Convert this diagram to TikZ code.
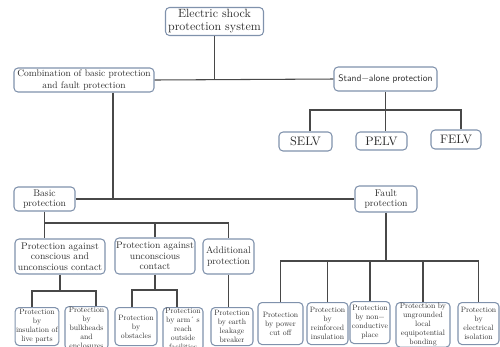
\documentclass[tikz,border=0pt]{standalone}
\usepackage{fontspec}
\setmainfont{lmroman10-regular.otf}
\setsansfont{lmsans10-regular.otf}
\usepackage{xcolor}
\usepackage{tikz}
\definecolor{boxline}{RGB}{128,146,172}
\definecolor{wire}{RGB}{72,72,72}
\definecolor{ink}{RGB}{45,45,45}

\begin{document}
\begin{tikzpicture}[x=0.02cm,y=-0.02cm,
box/.style={draw=boxline,rounded corners=0.08cm,align=center,inner sep=0.5pt,text=ink,line width=0.6pt},
wh/.style 2 args={minimum width=#1*0.02cm,minimum height=#2*0.02cm},
leaf/.style={box,anchor=north,font=\fontsize{4.4}{5.1}\selectfont},
mid/.style={box,font=\fontsize{5.5}{6}\selectfont},
volt/.style={box,font=\fontsize{7}{8}\selectfont},
link/.style={draw=wire,line width=0.6pt},
trunk/.style={draw=wire,line width=1.1pt}]
\useasboundingbox (0,0) rectangle (500,346);
\clip (0,0) rectangle (500,346);
\node (top) [box,wh={98}{28},font=\fontsize{6.8}{7.4}\selectfont] at (214.5,21.5) {Electric shock\\protection system};
\node (combo) [box,wh={140}{24},font=\fontsize{5.4}{6.6}\selectfont] at (84,80) {Combination of basic protection\\and fault protection};
\node (alone) [box,wh={103}{24},font=\sffamily\fontsize{5.4}{6.6}\selectfont] at (385.5,79) {Stand−alone protection};
\node (selv) [volt,wh={53}{19}] at (305.5,141.5) {SELV};
\node (pelv) [volt,wh={51}{18}] at (381.5,141) {PELV};
\node (felv) [volt,wh={50}{19}] at (456,139.5) {FELV};
\node (basic) [mid,wh={61}{24}] at (44.5,199) {Basic\\protection};
\node (fault) [mid,wh={62}{26}] at (386,199) {Fault\\protection};
\node (conscious) [mid,wh={90}{35}] at (60,256.5) {Protection against\\conscious and\\unconscious contact};
\node (unconscious) [mid,wh={80}{36}] at (155,256) {Protection against\\unconscious\\contact};
\node (additional) [mid,wh={51}{35}] at (228.5,256.5) {Additional\\protection};
\node (insul) [leaf,wh={42}{38}] at (37,307) {Protection\\by\\insulation of\\live parts};
\node (bulk) [leaf,wh={43}{38}] at (86.5,306) {Protection\\by\\bulkheads\\and\\enclosures};
\node (obst) [leaf,wh={42}{38}] at (136,307) {Protection\\by\\obstacles};
\node (arm) [leaf,wh={40}{38}] at (183,307) {Protection\\by arm´ s\\reach\\outside\\facilities};
\node (earth) [leaf,wh={42}{38}] at (232,307) {Protection\\by earth\\leakage\\breaker};
\node (power) [leaf,wh={45}{42}] at (280.5,302) {Protection\\by power\\cut off};
\node (reinf) [leaf,wh={41}{42}] at (327.5,302) {Protection\\by\\reinforced\\insulation};
\node (noncond) [leaf,wh={40}{42}] at (370,301) {Protection\\by non−\\conductive\\place};
\node (ungr) [leaf,wh={54}{42}] at (423,302) {Protection by\\ungrounded\\local\\equipotential\\bonding};
\node (iso) [leaf,wh={41}{42}] at (478.5,302) {Protection\\by\\electrical\\isolation};
\coordinate (sbus1) at (310,110);
\coordinate (sbus2) at (461,110);
\coordinate (cdrop) at (113,199);
\coordinate (bbus) at (44.5,223);
\coordinate (cbus1) at (32,291);
\coordinate (cbus2) at (96,291);
\coordinate (ubus1) at (132,290);
\coordinate (ubus2) at (177,290);
\coordinate (fbus) at (386,261);
\draw[trunk] (top.south) -- (top.south |- combo.east);
\draw[link] (combo.east) -- (alone.west);
\draw[link] (alone.south) -- (pelv.north -| alone.south);
\draw[link] (selv.north -| sbus1) -- (sbus1) -- (sbus2) -- (felv.north -| sbus2);
\draw[trunk] (combo.south -| cdrop) -- (cdrop);
\draw[link] (basic.east) -- (fault.west);
\draw[link] (basic.south) -- (conscious.north -| basic.south);
\draw[link] (bbus) -| (additional.north);
\draw[link] (unconscious.north) -- (unconscious.north |- bbus);
\draw[link] (conscious.south) -- (conscious.south |- cbus1);
\draw[link] (insul.north -| cbus1) -- (cbus1) -- (cbus2) -- (bulk.north -| cbus2);
\draw[link] (unconscious.south) -- (unconscious.south |- ubus1);
\draw[link] (obst.north -| ubus1) -- (ubus1) -- (ubus2) -- (arm.north -| ubus2);
\draw[link] (additional.south) -- (earth.north -| additional.south);
\draw[link] (fault.south) -- (fbus);
\draw[link] (power.north) |- (fbus) -| (iso.north);
\draw[link] (reinf.north) -- (reinf.north |- fbus);
\draw[link] (noncond.north) -- (noncond.north |- fbus);
\draw[link] (ungr.north) -- (ungr.north |- fbus);
\end{tikzpicture}
\end{document}
